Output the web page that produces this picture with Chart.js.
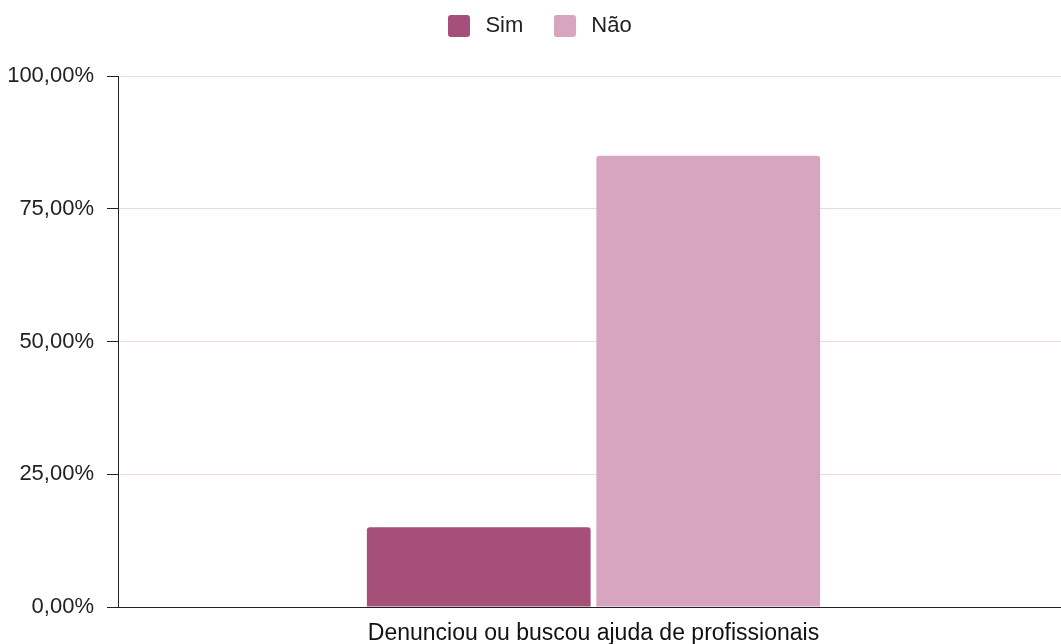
<!DOCTYPE html>
<html>
<head>
<meta charset="utf-8">
<script src="https://cdn.jsdelivr.net/npm/chart.js@4"></script>
<style>
  html, body { margin: 0; padding: 0; background: #fff; overflow: hidden; }
  #wrap { width: 1069px; height: 644px; }
</style>
</head>
<body>
<div id="wrap"><canvas id="chart"></canvas></div>
<script>
const categories = ["Denunciou ou buscou ajuda de profissionais"];
const seriesNames = ["Sim", "Não"];
const simValues = [15];
const naoValues = [85];
const yTicks = [0, 25, 50, 75, 100];

const FONT = "'Liberation Sans', Arial, sans-serif";
const simColor = "#a64f79";
const naoColor = "#d7a5bf";

// small rounded square used as legend marker
const legendBox = (color) => {
    const c = document.createElement("canvas");
    c.width = 22;
    c.height = 22;
    const g = c.getContext("2d");
    const r = 3;
    g.fillStyle = color;
    g.beginPath();
    g.moveTo(r, 0);
    g.arcTo(22, 0, 22, 22, r);
    g.arcTo(22, 22, 0, 22, r);
    g.arcTo(0, 22, 0, 0, r);
    g.arcTo(0, 0, 22, 0, r);
    g.closePath();
    g.fill();
    return c;
};

// give the legend a fixed height so the plot starts where the original does
const legendHeight = {
    id: "legendHeight",
    beforeInit(chart) {
        const fit = chart.legend.fit;
        chart.legend.fit = function () {
            fit.bind(chart.legend)();
            this.height = 87;
        };
    }
};

const ctx = document.getElementById("chart");

new Chart(ctx, {
    type: "bar",
    data: {
        labels: categories,
        datasets: [
            {
                label: seriesNames[0],
                data: simValues,
                backgroundColor: simColor,
                borderRadius: 3,
                borderSkipped: "start",
                pointStyle: legendBox(simColor)
            },
            {
                label: seriesNames[1],
                data: naoValues,
                backgroundColor: naoColor,
                borderRadius: 3,
                borderSkipped: "start",
                pointStyle: legendBox(naoColor)
            }
        ]
    },
    plugins: [legendHeight],
    options: {
        responsive: true,
        maintainAspectRatio: false,
        animation: false,
        categoryPercentage: 0.4826,
        barPercentage: 0.975,
        layout: {
            padding: { left: 6, right: 0, top: -11, bottom: 0 }
        },
        plugins: {
            legend: {
                position: "top",
                labels: {
                    color: "#222",
                    font: { family: FONT, size: 22 },
                    usePointStyle: true,
                    pointStyleWidth: 31,
                    boxHeight: 22,
                    padding: 26
                }
            },
            tooltip: { enabled: false }
        },
        scales: {
            x: {
                grid: { display: false },
                border: { display: true, color: "#222", width: 1 },
                afterFit: (axis) => { axis.height = 37; },
                ticks: {
                    color: "#111",
                    font: { family: FONT, size: 23 },
                    padding: 5
                }
            },
            y: {
                min: 0,
                max: 100,
                afterBuildTicks: (axis) => {
                    axis.ticks = yTicks.map(v => ({ value: v }));
                },
                afterFit: (axis) => { axis.width = 112; },
                grid: {
                    color: "#efd8e3",
                    lineWidth: 1,
                    tickColor: "#222",
                    tickLength: 11
                },
                border: { display: true, color: "#222", width: 1 },
                ticks: {
                    color: "#222",
                    font: { family: FONT, size: 22 },
                    padding: 13,
                    callback: (v) => v.toFixed(2).replace(".", ",") + "%"
                }
            }
        }
    }
});
</script>
</body>
</html>
